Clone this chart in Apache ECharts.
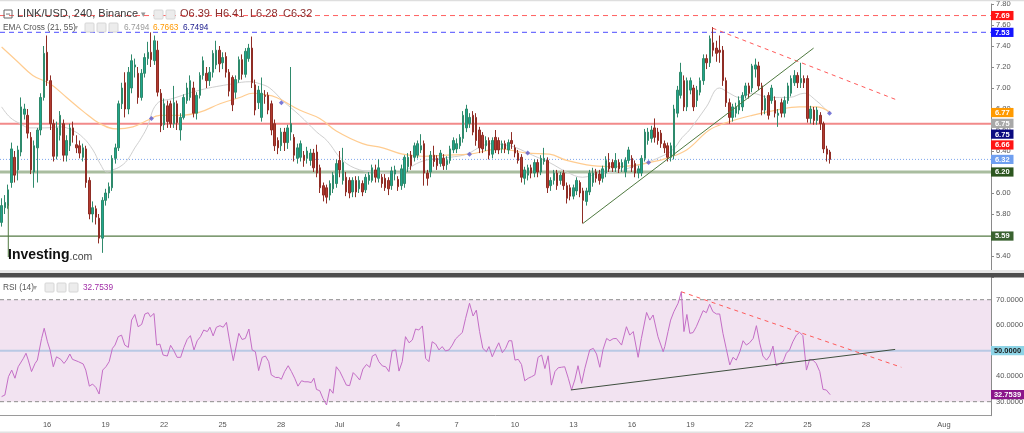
<!DOCTYPE html>
<html><head><meta charset="utf-8">
<script src="https://cdn.jsdelivr.net/npm/echarts@6.0.0/dist/echarts.min.js"></script>
<style>html,body{margin:0;padding:0;background:#fff}#c{width:1024px;height:433px}</style>
</head><body><div id="c"></div>
<script>
// ---------- DATA ----------
const slotStartUTC = Date.UTC(2022, 5, 13, 16); // first 4h slot
const slotCount = 305;
const tickLabels = [[14,'16'],[32,'19'],[50,'22'],[68,'25'],[86,'28'],[104,'Jul'],[122,'4'],[140,'7'],[158,'10'],[176,'13'],[194,'16'],[212,'19'],[230,'22'],[248,'25'],[266,'28'],[290,'Aug']];
// [open, close, low, high] per 4h candle
const candles = [
[5.72,5.88,5.68,5.95],[5.86,5.91,5.80,5.98],[5.88,6.03,5.85,6.08],[6.10,6.42,6.05,6.48],[6.34,6.17,6.10,6.40],[6.22,6.41,6.12,6.45],[6.39,6.82,6.35,6.91],[6.75,6.80,6.70,6.85],
[6.74,6.57,6.52,6.80],[6.53,6.22,6.18,6.58],[6.20,6.45,6.05,6.50],[6.43,6.60,6.10,6.62],[6.60,6.91,6.55,6.95],[6.91,7.33,6.88,7.40],[7.34,7.07,7.02,7.50],[7.07,6.66,6.60,7.12],
[6.66,6.35,6.30,6.70],[6.35,6.62,6.32,6.68],[6.55,6.74,6.50,6.78],[6.66,6.36,6.30,6.70],[6.36,6.50,6.30,6.55],[6.45,6.62,6.40,6.66],[6.62,6.55,6.48,6.68],[6.46,6.43,6.38,6.55],
[6.45,6.38,6.33,6.50],[6.34,6.43,6.30,6.47],[6.42,6.10,6.05,6.45],[6.12,5.80,5.75,6.15],[5.80,5.86,5.72,5.92],[5.85,5.77,5.70,5.88],[5.76,5.57,5.52,5.80],[5.57,5.93,5.43,5.96],
[5.93,6.00,5.88,6.04],[6.00,6.06,5.95,6.10],[6.05,6.33,6.02,6.36],[6.33,6.43,6.28,6.47],[6.43,6.85,6.40,6.88],[6.85,7.00,6.80,7.05],[7.05,6.80,6.72,7.15],[6.80,7.15,6.75,7.20],
[7.00,7.26,6.95,7.32],[7.20,7.22,7.10,7.28],[7.14,6.91,6.85,7.20],[6.91,7.14,6.88,7.18],[7.14,7.29,7.10,7.33],[7.28,7.34,7.22,7.44],[7.34,7.27,7.20,7.53],[7.26,7.45,7.22,7.50],
[7.36,6.96,6.92,7.45],[6.95,6.64,6.58,6.99],[6.65,6.85,6.60,6.90],[6.83,6.68,6.62,6.88],[6.85,6.66,6.62,6.88],[6.66,6.86,6.62,7.02],[6.85,6.67,6.60,6.88],[6.60,6.72,6.50,6.76],
[6.72,6.91,6.70,6.94],[6.88,7.00,6.85,7.05],[6.91,7.07,6.88,7.12],[7.00,6.76,6.72,7.06],[6.76,6.93,6.70,6.96],[6.93,7.12,6.90,7.15],[7.12,7.26,7.08,7.30],[7.14,7.07,7.00,7.20],
[7.07,7.15,7.02,7.20],[7.15,7.33,7.10,7.36],[7.22,7.36,7.18,7.45],[7.36,7.23,7.15,7.40],[7.24,7.29,7.18,7.34],[7.30,7.15,7.10,7.34],[7.15,6.97,6.92,7.18],[7.10,6.84,6.78,7.12],
[6.96,7.08,6.90,7.12],[7.08,7.27,7.05,7.30],[7.27,7.13,7.08,7.32],[7.13,7.35,7.10,7.38],[7.28,7.38,7.25,7.42],[7.38,7.05,7.00,7.49],[7.03,6.79,6.74,7.08],[6.86,6.98,6.80,7.02],
[6.72,6.95,6.68,7.10],[6.93,6.92,6.85,6.98],[6.93,6.79,6.75,6.96],[6.85,6.60,6.55,6.88],[6.66,6.45,6.40,6.70],[6.50,6.43,6.37,6.53],[6.45,6.58,6.40,6.62],[6.58,6.48,6.40,6.62],
[6.48,6.62,6.42,6.65],[6.58,6.66,6.50,7.20],[6.53,6.36,6.30,6.56],[6.33,6.43,6.28,6.47],[6.34,6.47,6.30,6.50],[6.36,6.31,6.25,6.40],[6.33,6.40,6.28,6.44],[6.31,6.38,6.26,6.42],
[6.38,6.24,6.20,6.42],[6.39,6.19,6.15,6.46],[6.24,6.05,6.00,6.27],[6.07,5.98,5.92,6.10],[6.05,5.96,5.90,6.08],[5.98,6.09,5.93,6.12],[6.04,6.17,6.00,6.20],[6.09,6.28,6.05,6.32],
[6.31,6.22,6.15,6.40],[6.12,6.29,6.08,6.43],[6.15,6.01,5.97,6.20],[6.12,6.00,5.95,6.15],[6.01,6.12,5.96,6.15],[6.12,6.01,5.96,6.16],[6.04,6.12,6.00,6.16],[6.09,6.01,5.97,6.12],
[6.03,6.15,6.00,6.18],[6.12,6.17,6.08,6.20],[6.12,6.24,6.10,6.27],[6.22,6.15,6.10,6.27],[6.14,6.24,6.10,6.32],[6.15,6.09,6.05,6.18],[6.14,6.05,6.02,6.18],[6.12,6.04,5.98,6.15],
[6.07,6.21,6.03,6.25],[6.18,6.22,6.12,6.26],[6.13,6.06,6.02,6.16],[6.07,6.23,6.03,6.27],[6.09,6.34,6.05,6.36],[6.25,6.34,6.20,6.38],[6.36,6.26,6.22,6.40],[6.34,6.45,6.30,6.48],
[6.36,6.47,6.33,6.50],[6.41,6.45,6.38,6.56],[6.47,6.19,6.07,6.50],[6.19,6.14,6.07,6.22],[6.20,6.36,6.15,6.40],[6.36,6.30,6.25,6.45],[6.33,6.26,6.22,6.36],[6.28,6.38,6.25,6.41],
[6.33,6.26,6.22,6.37],[6.27,6.31,6.22,6.35],[6.31,6.42,6.28,6.45],[6.41,6.50,6.38,6.53],[6.42,6.47,6.38,6.52],[6.45,6.53,6.42,6.56],[6.52,6.74,6.48,6.78],[6.62,6.80,6.58,6.84],
[6.66,6.72,6.62,6.76],[6.74,6.58,6.55,6.78],[6.72,6.50,6.45,6.76],[6.60,6.43,6.38,6.63],[6.55,6.42,6.38,6.58],[6.45,6.50,6.40,6.54],[6.50,6.36,6.32,6.53],[6.37,6.50,6.33,6.53],
[6.53,6.41,6.38,6.60],[6.50,6.41,6.37,6.53],[6.42,6.47,6.38,6.50],[6.47,6.42,6.38,6.50],[6.41,6.48,6.37,6.51],[6.50,6.47,6.42,6.58],[6.43,6.38,6.34,6.46],[6.38,6.31,6.28,6.41],
[6.34,6.15,6.10,6.37],[6.14,6.22,6.08,6.25],[6.17,6.24,6.12,6.27],[6.24,6.19,6.14,6.27],[6.19,6.29,6.15,6.32],[6.29,6.20,6.15,6.32],[6.20,6.33,6.17,6.36],[6.30,6.33,6.27,6.43],
[6.31,6.05,6.00,6.34],[6.07,6.12,6.02,6.15],[6.12,6.19,6.08,6.22],[6.19,6.07,6.03,6.22],[6.12,6.17,6.08,6.20],[6.19,6.07,6.03,6.22],[6.07,5.95,5.90,6.10],[6.05,5.97,5.93,6.08],
[5.97,6.05,5.94,6.08],[6.02,6.12,5.98,6.15],[6.10,6.00,5.96,6.12],[6.02,5.93,5.71,6.05],[5.92,6.02,5.88,6.05],[6.01,6.19,5.98,6.22],[6.10,6.19,6.06,6.24],[6.20,6.14,6.10,6.23],
[6.18,6.12,6.08,6.22],[6.14,6.23,6.10,6.26],[6.19,6.31,6.15,6.35],[6.29,6.23,6.20,6.38],[6.29,6.24,6.20,6.32],[6.24,6.31,6.20,6.38],[6.29,6.23,6.19,6.32],[6.24,6.29,6.20,6.32],
[6.20,6.31,6.15,6.34],[6.31,6.41,6.28,6.44],[6.33,6.24,6.20,6.36],[6.28,6.19,6.15,6.31],[6.19,6.23,6.14,6.26],[6.19,6.33,6.16,6.36],[6.33,6.58,6.30,6.61],[6.50,6.58,6.46,6.62],
[6.52,6.60,6.48,6.64],[6.62,6.53,6.48,6.71],[6.58,6.50,6.46,6.62],[6.57,6.47,6.43,6.60],[6.47,6.43,6.38,6.50],[6.45,6.34,6.30,6.48],[6.34,6.45,6.30,6.48],[6.36,6.80,6.32,6.84],
[6.76,6.98,6.72,7.02],[6.93,7.15,6.90,7.24],[7.07,6.82,6.78,7.12],[6.82,7.07,6.78,7.10],[6.98,7.07,6.94,7.10],[7.00,6.82,6.78,7.03],[6.88,6.98,6.82,7.02],[6.96,7.07,6.93,7.10],
[7.07,7.28,7.03,7.32],[7.28,7.24,7.18,7.32],[7.24,7.47,7.20,7.50],[7.43,7.36,7.30,7.58],[7.38,7.33,7.25,7.45],[7.36,7.34,7.24,7.50],[7.36,7.07,7.02,7.40],[7.07,6.86,6.82,7.10],
[6.86,6.72,6.66,6.90],[6.72,6.82,6.68,6.85],[6.76,6.82,6.72,6.86],[6.79,6.88,6.75,6.92],[6.82,6.93,6.78,6.96],[6.93,7.02,6.90,7.05],[7.02,6.95,6.90,7.05],[7.00,7.21,6.96,7.23],
[7.18,7.22,7.10,7.28],[7.21,7.02,6.98,7.25],[7.02,6.79,6.74,7.05],[6.79,6.90,6.75,6.93],[6.93,6.74,6.70,6.96],[6.88,7.00,6.85,7.03],[6.88,6.76,6.72,6.92],[6.74,6.76,6.63,6.80],
[6.86,6.76,6.72,6.90],[6.76,6.88,6.72,6.92],[6.88,7.02,6.85,7.05],[6.95,7.09,6.92,7.12],[7.05,7.12,7.02,7.17],[7.12,7.05,7.00,7.15],[7.05,7.09,7.00,7.24],[7.09,7.05,7.00,7.12],
[7.09,6.71,6.67,7.12],[6.71,6.80,6.66,6.83],[6.79,6.69,6.65,6.82],[6.69,6.79,6.65,6.82],[6.74,6.66,6.60,6.77],[6.66,6.42,6.38,6.68],[6.42,6.37,6.30,6.45],[6.39,6.32,6.28,6.41]
];
// EMA(21) grey and EMA(55) orange, read as [slot, price]
const ema21 = [[0,6.82],[2.6,6.72],[5.7,6.66],[8.7,6.62],[13.3,6.62],[18,6.63],[21.6,6.60],[25,6.53],[28.1,6.41],[30.3,6.28],[32.4,6.20],[34.2,6.22],[36.4,6.25],[38.6,6.31],[41,6.43],[42.5,6.50],[44.7,6.62],[47.8,6.85],[52.7,6.90],[61,6.98],[71.1,7.04],[76.4,7.06],[79.5,7.04],[82.5,7.00],[86.5,6.88],[91.7,6.74],[97,6.58],[100.1,6.50],[105,6.31],[110.2,6.22],[115.4,6.20],[119.4,6.19],[122.5,6.19],[124.7,6.22],[127.7,6.28],[131.7,6.32],[137.9,6.34],[143.1,6.37],[148,6.45],[151.1,6.47],[156.3,6.45],[158.5,6.43],[163.4,6.36],[168.6,6.29],[173.9,6.20],[178.8,6.15],[184,6.19],[189.2,6.20],[194.2,6.25],[198.5,6.29],[202.5,6.34],[206.5,6.41],[209.5,6.53],[211.7,6.60],[216.9,6.82],[220.9,7.00],[224,6.95],[227.1,6.91],[231,6.95],[236.3,6.91],[242.4,6.91],[247,6.95],[250.7,6.88],[253.8,6.79],[255,6.75]];
const ema55 = [[0,7.39],[4.6,7.26],[9.6,7.12],[14.9,7.04],[20,6.91],[25,6.78],[30.3,6.66],[35.4,6.61],[40.4,6.63],[44.7,6.69],[48.7,6.74],[54.9,6.74],[61,6.77],[67.2,6.85],[73.3,6.91],[77.3,6.95],[80.4,6.94],[84.6,6.91],[91.7,6.79],[97.9,6.71],[103,6.59],[111.1,6.47],[117.3,6.43],[123.4,6.37],[129.6,6.35],[137,6.36],[144,6.37],[153.3,6.42],[161.6,6.38],[168.6,6.37],[173.9,6.31],[181.8,6.26],[189.2,6.25],[194.2,6.26],[199.4,6.29],[204.6,6.33],[210.8,6.41],[217.8,6.60],[223.1,6.67],[231,6.74],[238.4,6.79],[245.5,6.82],[250.7,6.82],[255,6.77]];
const emaCross = [[46.1,6.71],[86.1,6.86],[144,6.37],[161.9,6.38],[199.1,6.29],[254.8,6.76]];
const emaLast = {fast:6.7494, slow:6.7663, signal:6.7494};
const priceLevels = {resistHigh:7.69, resistBlue:7.53, redLevel:6.66, lastClose:6.32, support:6.20, supportLow:5.59};
const trendDown = [[218.8,7.57],[275.2,6.89]];
const trendUp = [[178.9,5.71],[249.9,7.38]];
const leftMarker = [[2.05,5.90],[2.05,5.39]];
// RSI(14) read as [slot, value]
const rsi = [[0,32.0],[1,32.6],[2.1,39.8],[3.1,42.4],[4.1,39.2],[5.1,43.7],[6.7,47.0],[7.5,49.0],[8.2,46.3],[9.2,41.8],[10.3,45.0],[11,46.3],[12.3,54.8],[13.1,58.8],[14.1,53.5],[14.9,50.3],[15.9,43.7],[16.9,47.6],[18.2,46.6],[19.2,45.0],[20,46.3],[21,48.7],[21.8,46.6],[23.6,45.7],[25.1,44.8],[25.9,42.4],[27,36.1],[28,36.9],[29,35.6],[30,33.0],[31.1,42.4],[32.1,43.7],[33.1,45.7],[34.1,50.9],[34.9,52.2],[35.9,55.5],[36.9,56.1],[37.9,52.2],[39,51.3],[40,62.0],[41,64.2],[42,59.4],[43.1,60.3],[44.1,64.4],[45.1,64.9],[45.8,63.3],[46.9,64.6],[47.7,52.2],[48.7,52.6],[49.7,48.3],[51,47.9],[52,52.1],[53,50.0],[54,47.4],[55.1,47.4],[56.1,51.3],[57.1,54.4],[58.1,55.9],[59.2,50.3],[60.2,53.9],[61.2,55.5],[62.2,58.1],[63.3,57.5],[64.1,59.2],[65.1,55.8],[66.1,59.2],[67.2,59.8],[68.2,59.2],[69.2,61.1],[70.2,53.5],[71.3,46.1],[73,56.8],[74,54.4],[75,54.8],[76.1,58.5],[77.1,50.3],[78.1,49.6],[79.1,42.2],[80.2,47.4],[81.2,47.9],[82.2,45.7],[83,40.5],[84.3,39.5],[85.3,39.5],[86.1,38.8],[87.1,41.8],[88.2,44.1],[89.2,41.8],[90.2,39.2],[91.2,36.1],[92.3,38.2],[93.3,37.8],[94.3,37.8],[95.3,37.5],[96.1,39.2],[96.9,34.8],[97.9,34.3],[98.9,31.3],[100,28.7],[101,35.0],[102,33.3],[103,43.7],[104.1,41.8],[105.1,39.2],[106.1,36.5],[107.1,36.3],[108.2,41.4],[109.2,40.1],[110.2,38.5],[111.2,42.8],[112.3,44.6],[113.3,43.5],[114.1,47.9],[115.1,48.6],[116.1,45.7],[117.2,44.0],[118.2,43.7],[119.2,41.8],[120.2,50.0],[121.3,50.3],[122.3,42.0],[123.3,45.7],[124.3,55.5],[125.4,53.1],[126.4,54.2],[127.4,58.5],[128.4,58.1],[129.5,59.7],[130.5,47.0],[131.5,45.7],[132.5,53.5],[133.6,52.6],[134.6,50.3],[135.6,51.6],[136.6,49.9],[137.7,50.3],[138.7,52.2],[139.7,54.6],[140.7,55.8],[141.8,57.2],[142.8,62.7],[144,68.6],[145.1,63.6],[146.1,65.9],[147.1,57.5],[148.1,50.9],[149.2,49.6],[150,51.6],[151,47.6],[152,50.5],[153,53.1],[154.1,49.2],[155.1,50.9],[156.1,53.9],[157,53.9],[158,46.3],[159,46.6],[160,44.6],[161,38.2],[162.1,39.2],[163.1,39.8],[164.1,40.5],[165.1,47.4],[166.2,48.3],[167.2,43.0],[168.2,48.0],[169.2,36.5],[170.3,41.8],[171.3,43.3],[172.3,43.5],[173.3,43.7],[174.4,39.2],[175.4,34.6],[176.4,38.5],[177.4,44.1],[178.5,37.2],[179.5,43.1],[181,50.3],[182.1,50.9],[183.1,48.7],[184.1,43.5],[185.1,50.5],[186.2,54.8],[187.2,53.9],[188.2,54.7],[189.2,54.8],[190.8,52.2],[192.3,59.4],[193.3,56.1],[194.4,57.5],[195.9,47.4],[196.9,54.8],[198.5,65.0],[199.5,62.0],[200.5,64.0],[201,63.3],[202,55.5],[203.6,49.6],[204.1,51.6],[205.1,57.5],[205.9,62.0],[206.9,65.3],[208.2,68.6],[209.2,73.1],[210,57.5],[210.9,64.2],[211.8,56.8],[212.8,57.1],[213.8,59.4],[214.9,62.7],[215.9,65.7],[216.9,64.9],[217.9,68.2],[218.9,65.3],[220,64.4],[221,64.4],[222,56.8],[223,50.9],[224.1,44.4],[225.1,47.4],[226.1,46.3],[227.2,49.6],[228.2,53.9],[229.2,52.2],[230.2,53.1],[231.3,54.8],[232.3,59.8],[233.3,53.1],[234.3,47.9],[235.4,46.3],[236.4,48.0],[237.4,51.8],[238.4,44.1],[239.5,45.0],[240.5,45.7],[241.5,49.0],[242.5,50.3],[243.5,53.5],[244.6,56.1],[245.6,57.2],[246.6,55.9],[247.1,56.1],[247.7,42.4],[248.7,46.6],[249.7,46.3],[250.7,45.0],[251.8,41.8],[252.8,34.8],[253.8,34.6],[255,32.7539]];
const rsiLast = 32.7539;
const rsiLevels = {upper:70, mid:50, lower:30};
const rsiTrendUp = [[175.2,34.6],[275.0,50.5]];
const rsiTrendDown = [[209.2,73.1],[276.9,43.5]];

// ---------- CHART ----------
const FONT = '"Liberation Sans", Arial, sans-serif';
const chart = echarts.init(document.getElementById('c'), null, {renderer:'canvas', width:1024, height:433, devicePixelRatio:1});
const cats = [];
for (let i = 0; i < slotCount; i++) {
  const d = new Date(slotStartUTC + i * 14400000);
  cats.push((d.getUTCMonth()+1) + '/' + d.getUTCDate() + ' ' + d.getUTCHours() + ':00');
}
const tickMap = new Map(tickLabels);
const X0 = -0.5, X1 = slotCount - 0.5;
const hline = v => [[X0, v], [X1, v]];
const lineS = (data, xi, yi, style, z, extra) => Object.assign({type:'line', xAxisIndex:xi, yAxisIndex:yi, data, symbol:'none', silent:true, lineStyle:style, z:z}, extra || {});

const option = {
  animation:false,
  backgroundColor:'#ffffff',
  grid:[
    {left:0, right:33, top:4, height:273, containLabel:false, outerBoundsMode:'none'},
    {left:0, right:33, top:274.2, height:141.5, containLabel:false, outerBoundsMode:'none'}
  ],
  xAxis:[
    {type:'category', gridIndex:0, data:cats, boundaryGap:true, show:false},
    {type:'value', gridIndex:0, min:X0, max:X1, show:false, axisLine:{onZero:false}},
    {type:'category', gridIndex:1, data:cats, boundaryGap:true,
     axisLine:{show:true, onZero:false, lineStyle:{color:'#9a9a9a'}}, axisTick:{show:false}, splitLine:{show:false},
     axisLabel:{interval:(i)=>tickMap.has(i), formatter:(v,i)=>tickMap.get(i)||'', color:'#555', fontSize:7.5, margin:5, fontFamily:FONT}},
    {type:'value', gridIndex:1, min:X0, max:X1, show:false, axisLine:{onZero:false}}
  ],
  yAxis:[
    {type:'value', gridIndex:0, position:'right', min:5.2, max:7.8, interval:0.2, scale:true,
     axisLine:{show:true, onZero:false, lineStyle:{color:'#8a8a8a'}}, axisTick:{show:true, length:3, lineStyle:{color:'#8a8a8a'}},
     splitLine:{show:false},
     axisLabel:{formatter:v => v < 5.3 ? '' : v.toFixed(2), color:'#555', fontSize:7.5, margin:5, fontFamily:FONT}},
    {type:'value', gridIndex:1, position:'right', min:24.5, max:80, splitNumber:6, scale:true,
     axisLine:{show:true, onZero:false, lineStyle:{color:'#8a8a8a'}}, axisTick:{show:false},
     splitLine:{show:false},
     axisLabel:{formatter:v => (Math.abs(v % 10) < 1e-6 && v >= 30 && v <= 70) ? v.toFixed(4) : '', color:'#555', fontSize:7.5, margin:5, fontFamily:FONT}}
  ],
  series:[
    // horizontal price levels
    lineS(hline(priceLevels.resistHigh), 1, 0, {color:'#ff6060', width:1, type:[5,4]}, 1),
    lineS(hline(priceLevels.resistBlue), 1, 0, {color:'#7070ff', width:1.2, type:[5,4]}, 1),
    lineS(hline(priceLevels.redLevel), 1, 0, {color:'#f28a8a', width:2}, 1),
    lineS(hline(priceLevels.lastClose), 1, 0, {color:'#7ea6ec', width:1, type:[1,2]}, 1),
    lineS(hline(priceLevels.support), 1, 0, {color:'#a9bd9f', width:3}, 1),
    lineS(hline(priceLevels.supportLow), 1, 0, {color:'#557a44', width:1.2}, 1),
    // EMAs
    lineS(ema21, 1, 0, {color:'#cfcfcf', width:1}, 2, {smooth:0.4}),
    lineS(ema55, 1, 0, {color:'#ffcc90', width:1.2}, 2, {smooth:0.4}),
    // candles
    {type:'candlestick', xAxisIndex:0, yAxisIndex:0, data:candles, barWidth:2, z:3, silent:true,
     itemStyle:{color:'#1fa58d', color0:'#b23a2f', borderColor:'#2f8a6c', borderColor0:'#8f2d25', borderWidth:1}},
    // trend lines
    lineS(trendDown, 1, 0, {color:'#ff5a5a', width:1, type:[4,4]}, 4),
    lineS(trendUp, 1, 0, {color:'#4f7a40', width:1}, 4),
    lineS(leftMarker, 1, 0, {color:'#4f7a40', width:1}, 4),
    {type:'scatter', xAxisIndex:1, yAxisIndex:0, data:emaCross, symbol:'diamond', symbolSize:5, z:5, silent:true,
     itemStyle:{color:'#5a5ad0'}},
    // RSI pane
    lineS(hline(rsiLevels.mid), 3, 1, {color:'#b9c9e4', width:2}, 2),
    lineS(hline(rsiLevels.upper), 3, 1, {color:'#8d8d8d', width:1, type:[4,3]}, 2),
    lineS(hline(rsiLevels.lower), 3, 1, {color:'#8d8d8d', width:1, type:[4,3]}, 2),
    lineS(rsi, 3, 1, {color:'#c46ec6', width:1}, 3, {
      markArea:{silent:true, itemStyle:{color:'#f2e3f1'}, data:[[{yAxis:rsiLevels.lower},{yAxis:rsiLevels.upper}]]}
    }),
    lineS(rsiTrendUp, 3, 1, {color:'#3f4f3f', width:1}, 4),
    lineS(rsiTrendDown, 3, 1, {color:'#ff5a5a', width:1, type:[4,4]}, 4)
  ]
};
chart.setOption(option);

// ---------- ANNOTATIONS ----------
function boxGroup(specs, yAxisIndex, w, gap) {
  const items = specs.map(s => Object.assign({}, s, {y: chart.convertToPixel({yAxisIndex:yAxisIndex}, s.v)}))
                     .sort((a, b) => a.y - b.y);
  for (let i = 1; i < items.length; i++) {
    if (items[i].y < items[i-1].y + gap) items[i].y = items[i-1].y + gap;
  }
  const out = [];
  items.forEach(it => {
    out.push({type:'rect', z:100, shape:{x:991, y:it.y - 4.6, width:w, height:9.2}, style:{fill:it.bg}});
    out.push({type:'text', z:101, style:{text:it.t, x:991 + w/2, y:it.y + 0.3, align:'center', verticalAlign:'middle',
      fill:it.fg || '#fff', fontSize:7.5, fontWeight:'bold', fontFamily:FONT}});
  });
  return out;
}
const mainBoxes = boxGroup([
  {v:priceLevels.resistHigh, t:priceLevels.resistHigh.toFixed(2), bg:'#ff1414'},
  {v:priceLevels.resistBlue, t:priceLevels.resistBlue.toFixed(2), bg:'#1414ff'},
  {v:emaLast.slow, t:emaLast.slow.toFixed(2), bg:'#ff9a00'},
  {v:emaLast.fast, t:emaLast.fast.toFixed(2), bg:'#a8a8a8'},
  {v:emaLast.signal, t:emaLast.signal.toFixed(2), bg:'#0a0a80'},
  {v:priceLevels.redLevel, t:priceLevels.redLevel.toFixed(2), bg:'#ff1414'},
  {v:priceLevels.lastClose, t:priceLevels.lastClose.toFixed(2), bg:'#6f9ff0'},
  {v:priceLevels.support, t:priceLevels.support.toFixed(2), bg:'#2c561f'},
  {v:priceLevels.supportLow, t:priceLevels.supportLow.toFixed(2), bg:'#3a6230'}
], 0, 22.5, 10.8);
const rsiBoxes = boxGroup([
  {v:rsiLevels.mid, t:rsiLevels.mid.toFixed(4), bg:'#8ed4e6', fg:'#1a1a1a'},
  {v:rsiLast, t:rsiLast.toFixed(4), bg:'#8a168a'}
], 1, 33, 10);

function txt(text, x, y, fill, size, weight, extra) {
  return Object.assign({type:'text', z:90, style:{text:text, x:x, y:y, fill:fill, fontSize:size, fontWeight:weight || 'normal', fontFamily:FONT, align:'left', verticalAlign:'middle'}}, extra || {});
}
function iconBox(x, y) {
  return {type:'rect', z:90, shape:{x:x, y:y, width:9, height:9, r:1}, style:{fill:'#ececec', stroke:'#d6d6d6', lineWidth:1}};
}
const headerEls = [
  {type:'rect', z:90, shape:{x:0, y:0, width:1024, height:1.2}, style:{fill:'#dedede'}},
  {type:'rect', z:90, shape:{x:4, y:10, width:8, height:8}, style:{fill:'none', stroke:'#666', lineWidth:1}},
  {type:'rect', z:90, shape:{x:6, y:13.6, width:4, height:0.9}, style:{fill:'#666'}},
  txt('LINK/USD, 240, Binance', 17, 14.2, '#3a3a3a', 11),
  txt('\u25BE', 141, 14.5, '#999', 9),
  iconBox(154, 10), iconBox(166, 10),
  txt('O6.39', 180, 14.2, '#8b2d2d', 11),
  txt('H6.41', 215, 14.2, '#8b2d2d', 11),
  txt('L6.28', 250, 14.2, '#8b2d2d', 11),
  txt('C6.32', 283, 14.2, '#8b2d2d', 11),
  txt('EMA Cross (21, 55)', 3, 27.5, '#555', 8.3),
  txt('\u25BE', 74, 28, '#aaa', 8),
  iconBox(85, 23), iconBox(97, 23), iconBox(109, 23),
  txt(emaLast.fast.toFixed(4), 124, 27.5, '#9a9a9a', 8.3),
  txt(emaLast.slow.toFixed(4), 153, 27.5, '#ff9800', 8.3),
  txt(emaLast.signal.toFixed(4), 183, 27.5, '#1a1a8c', 8.3),
  txt('Investing', 8, 255, '#111', 14, 'bold'),
  txt('.com', 69.5, 257.5, '#444', 10.5),
  // pane separator
  {type:'rect', z:95, shape:{x:0, y:270, width:1024, height:3}, style:{fill:'#e6e6e6'}},
  {type:'rect', z:96, shape:{x:0, y:273, width:1024, height:4.4}, style:{fill:'#4e4e4e'}},
  txt('RSI (14)', 3, 287.5, '#555', 8.3),
  txt('\u25BE', 33, 288, '#aaa', 8),
  iconBox(45, 283), iconBox(57, 283), iconBox(69, 283),
  txt(rsiLast.toFixed(4), 83, 287.5, '#a02ca6', 8.3),
  {type:'rect', z:90, shape:{x:0, y:431.5, width:1024, height:1.5}, style:{fill:'#e2e2e2'}}
];
chart.setOption({graphic:{elements: headerEls.concat(mainBoxes, rsiBoxes)}});
</script>
</body></html>
